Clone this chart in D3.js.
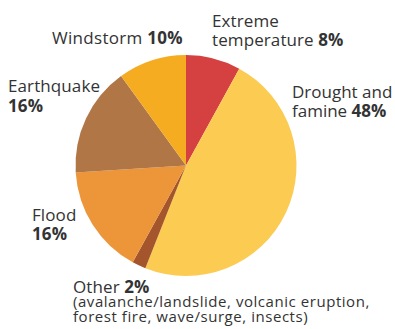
<!DOCTYPE html>
<html>
<head>
<meta charset="utf-8">
<script src="https://cdn.jsdelivr.net/npm/d3@7"></script>
<style>
  html, body { margin: 0; padding: 0; background: #fff; }
  svg { display: block; }
  text { font-family: "Open Sans", Roboto, sans-serif; fill: #333; }
</style>
</head>
<body>
<svg id="chart" width="395" height="329"></svg>
<script>
// Disaster types, clockwise from 12 o'clock
const categories = ["Extreme temperature", "Drought and famine", "Other", "Flood", "Earthquake", "Windstorm"];
const shares = [8, 48, 2, 16, 16, 10];
const colors = ["#d54040", "#fccb52", "#a4552b", "#ec9539", "#b07646", "#f6ac20"];

// Label blocks: each line is [plain text, bold text, font size, letter spacing]
const labelLines = [
  [["Extreme", "", 17, 0.1], ["temperature ", "8%", 17, 0.1]],
  [["Drought and", "", 17, 0], ["famine ", "48%", 17, 0]],
  [["Other ", "2%", 17, 0.1], ["(avalanche/landslide, volcanic eruption,", "", 15, 0.55], ["forest fire, wave/surge, insects)", "", 15, 0.55]],
  [["Flood", "", 17, 0.1], ["", "16%", 17, 0.1]],
  [["Earthquake", "", 17, 0.1], ["", "16%", 17, 0.1]],
  [["Windstorm ", "10%", 17, 0.3]]
];
const labelAnchors = [
  {x: 212, y: [27, 46]},
  {x: 292, y: [98, 117]},
  {x: 73, y: [293, 307, 322]},
  {x: 32, y: [221, 240]},
  {x: 8, y: [92, 112]},
  {x: 52, y: [44]}
];

const svg = d3.select("#chart");
const cx = 186, cy = 165.5, r = 110.5;

const pie = d3.pie().sort(null).value(d => d);
const arc = d3.arc().innerRadius(0).outerRadius(r);

svg.append("g")
  .attr("transform", `translate(${cx},${cy})`)
  .selectAll("path")
  .data(pie(shares))
  .join("path")
  .attr("d", arc)
  .attr("fill", (d, i) => colors[i]);

const labels = svg.append("g");
labelLines.forEach((lines, i) => {
  const a = labelAnchors[i];
  lines.forEach((ln, j) => {
    const t = labels.append("text")
      .attr("x", a.x)
      .attr("y", a.y[j])
      .attr("font-size", ln[2])
      .attr("letter-spacing", ln[3]);
    if (ln[0]) t.append("tspan").text(ln[0]);
    if (ln[1]) t.append("tspan").attr("font-weight", "bold").text(ln[1]);
  });
});
</script>
</body>
</html>
